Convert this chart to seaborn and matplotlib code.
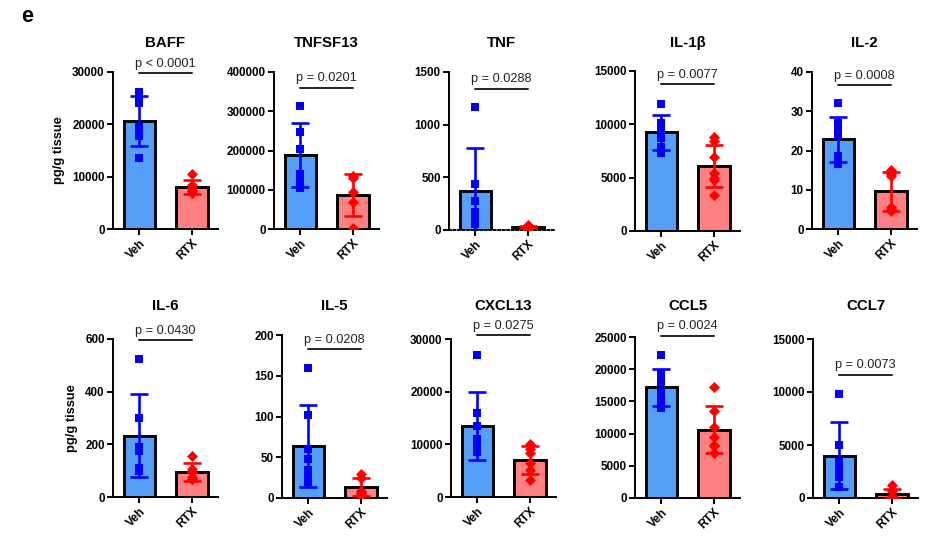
import numpy as np
import pandas as pd
import matplotlib
matplotlib.use("Agg")
import matplotlib.pyplot as plt
import seaborn as sns

# ---------------- data ----------------
groups = ["Veh", "RTX"]
titles = ["BAFF", "TNFSF13", "TNF", "IL-1β", "IL-2", "IL-6", "IL-5", "CXCL13", "CCL5", "CCL7"]
p_labels = ["p < 0.0001", "p = 0.0201", "p = 0.0288", "p = 0.0077", "p = 0.0008",
            "p = 0.0430", "p = 0.0208", "p = 0.0275", "p = 0.0024", "p = 0.0073"]
p_line_y = [29800, 360000, 1342, 13750, 36.6, 595, 182.7, 30700, 25160, 11620]

baff_veh = [26200, 25600, 24000, 19500, 18000, 13500, 17700]
baff_rtx = [10500, 8400, 7800, 7200, 6900, 7200]
tnfsf13_veh = [313000, 248000, 203000, 140000, 105000, 125000]
tnfsf13_rtx = [135000, 130000, 93000, 70000, 2000]
tnf_veh = [1165, 440, 280, 170, 110, 60]
tnf_rtx = [45, 35, 25, 20, 15]
il1b_veh = [11900, 10100, 9600, 8700, 7900, 7300]
il1b_rtx = [8800, 8400, 6900, 5400, 5000, 4800, 3400]
il2_veh = [32, 27, 25, 24, 18.5, 16.5, 17]
il2_rtx = [15, 14, 13.5, 5.5, 5, 4.5]
il6_veh = [524, 300, 190, 175, 112, 100]
il6_rtx = [157, 105, 95, 75, 68, 70]
il5_veh = [160, 102, 60, 48, 34, 26, 20]
il5_rtx = [29, 25, 9, 7, 5, 3]
cxcl13_veh = [27000, 16000, 13400, 11000, 9800, 8500, 9000]
cxcl13_rtx = [10000, 9200, 8300, 6500, 5100, 3200]
ccl5_veh = [22200, 19300, 18000, 16500, 15400, 14000, 15000]
ccl5_rtx = [17200, 13500, 11000, 9500, 8200, 7000, 8000]
ccl7_veh = [9800, 5000, 3400, 2600, 2000, 1000]
ccl7_rtx = [1200, 700, 200, 50, 30, 20]

veh_values = [baff_veh, tnfsf13_veh, tnf_veh, il1b_veh, il2_veh,
              il6_veh, il5_veh, cxcl13_veh, ccl5_veh, ccl7_veh]
rtx_values = [baff_rtx, tnfsf13_rtx, tnf_rtx, il1b_rtx, il2_rtx,
              il6_rtx, il5_rtx, cxcl13_rtx, ccl5_rtx, ccl7_rtx]

y_ticks = [
    [0, 10000, 20000, 30000],
    [0, 100000, 200000, 300000, 400000],
    [0, 500, 1000, 1500],
    [0, 5000, 10000, 15000],
    [0, 10, 20, 30, 40],
    [0, 200, 400, 600],
    [0, 50, 100, 150, 200],
    [0, 10000, 20000, 30000],
    [0, 5000, 10000, 15000, 20000, 25000],
    [0, 5000, 10000, 15000],
]

# ---------------- style ----------------
sns.set_theme(style="ticks")
plt.rcParams["font.family"] = ["Liberation Sans", "DejaVu Sans"]
plt.rcParams["axes.linewidth"] = 1.4
plt.rcParams["axes.edgecolor"] = "black"
plt.rcParams["text.color"] = "black"
plt.rcParams["xtick.color"] = "black"
plt.rcParams["ytick.color"] = "black"
plt.rcParams["axes.labelcolor"] = "black"

bar_colors = {"Veh": "#569FF6", "RTX": "#FF8080"}
pt_colors = ["#0000FF", "#FF0000"]
markers = ["s", "D"]
marker_sizes = [6.4, 5.6]

W, H = 951, 544
# panel boxes in pixels: left, top, bottom
boxes = [(113, 72, 229), (274, 72, 229), (449, 72, 230), (635, 71, 231), (812, 72, 229),
         (113, 339, 497), (282, 335, 498), (451, 339, 497), (635, 337, 498), (813, 339, 498)]
ax_w = 105
title_y = [1 - 43 / H, 1 - 306 / H]

fig = plt.figure(figsize=(W / 100, H / 100), dpi=100)

for i in range(10):
    left, top, bottom = boxes[i]
    ax = fig.add_axes([left / W, 1 - bottom / H, ax_w / W, (bottom - top) / H])
    veh, rtx = veh_values[i], rtx_values[i]
    df = pd.DataFrame({"group": ["Veh"] * len(veh) + ["RTX"] * len(rtx),
                       "value": veh + rtx})
    sns.barplot(data=df, x="group", y="value", hue="group", order=groups,
                hue_order=groups, palette=bar_colors, saturation=1, errorbar=None,
                width=0.6, edgecolor="black", linewidth=2.1, legend=False, ax=ax,
                zorder=1)
    stats = df.groupby("group")["value"].agg(["mean", "std"]).reindex(groups)
    for j, g in enumerate(groups):
        ax.errorbar(j, stats.loc[g, "mean"], yerr=stats.loc[g, "std"],
                    color=pt_colors[j], lw=1.9, capsize=6.5, capthick=1.9, zorder=3)
    for j, g in enumerate(groups):
        sub = df[df["group"] == g]
        sns.stripplot(data=sub, x="group", y="value", order=groups, jitter=False,
                      marker=markers[j], color=pt_colors[j], size=marker_sizes[j],
                      linewidth=0, ax=ax, zorder=4)
    ax.set_xlim(-0.5, 1.5)
    ymax = y_ticks[i][-1]
    ax.set_ylim(0, ymax)
    ax.set_yticks(y_ticks[i], labels=[str(t) for t in y_ticks[i]],
                  fontweight="bold", fontsize=8.4)
    ax.set_xticks([0, 1], labels=groups, rotation=45, ha="right",
                  rotation_mode="anchor", fontweight="bold", fontsize=8.6)
    ax.tick_params(axis="both", direction="out", length=4, width=1.4,
                   color="black", pad=2)
    ax.set_xlabel("")
    if i % 5 == 0:
        ax.set_ylabel("pg/g tissue", fontsize=9.3, fontweight="bold", labelpad=5)
    else:
        ax.set_ylabel("")
    sns.despine(ax=ax)
    if titles[i] == "TNF":
        ax.spines["bottom"].set_linestyle((0, (1, 1.3)))

    py = p_line_y[i]
    ax.plot([0, 1], [py, py], color="#222222", lw=1.4, clip_on=False, zorder=5)
    ax.annotate(p_labels[i], xy=(0.5, py), xytext=(0, 2.5), textcoords="offset points",
                ha="center", va="bottom", fontsize=9.2, color="#222222",
                annotation_clip=False)
    ax.annotate(titles[i], xy=(0.5, title_y[i // 5]),
                xycoords=("axes fraction", "figure fraction"),
                ha="center", va="center", fontsize=10.8, fontweight="bold",
                annotation_clip=False)

fig.text(27 / W, 1 - 17 / H, "e", fontsize=15.5, fontweight="bold",
         ha="center", va="center")

fig.savefig("out.png", dpi=100)
